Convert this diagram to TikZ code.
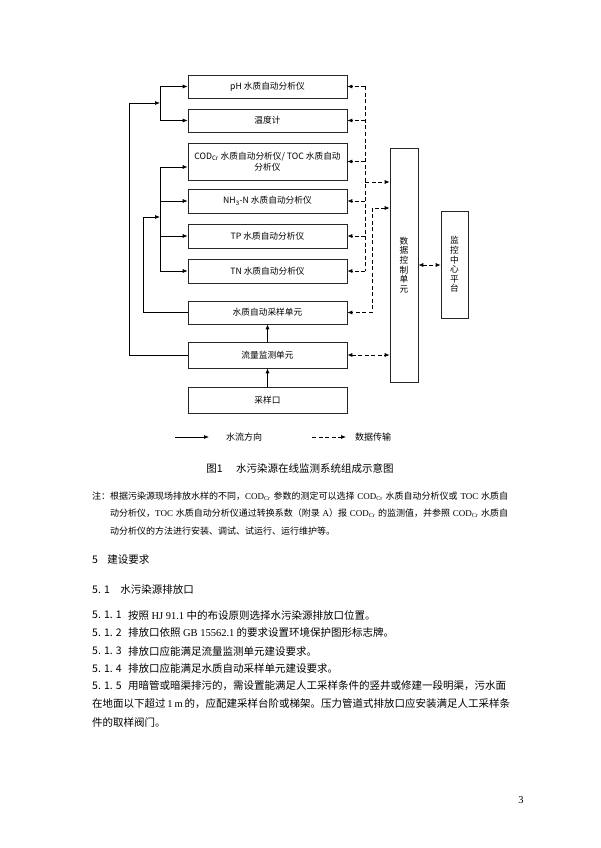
\documentclass[tikz,border=0pt]{standalone}
\usepackage{fontspec}
\usepackage{tikz}
\usetikzlibrary{arrows.meta}
\setmainfont{Noto Sans CJK SC}
\newfontfamily\en{Liberation Serif}
\XeTeXlinebreaklocale "zh"
\XeTeXlinebreakskip=0pt plus 1pt minus 0.3pt
\newcommand{\fullline}[2]{\makebox[#1][s]{#2}}
\tikzset{
    unit/.style={draw=black!85, line width=0.6pt, inner sep=1pt, align=center,
        font=\fontsize{8.7}{10.5}\selectfont},
    box/.style={unit, minimum width=159pt},
    data/.style={line width=0.7pt, dash pattern=on 4pt off 2.5pt},
    water/.style={line width=0.7pt},
    txt/.style={inner sep=0pt, anchor=west},
    body/.style={txt, font=\fontsize{10.5}{12}\selectfont},
    note/.style={txt, font=\fontsize{9}{11}\selectfont}
}

\begin{document}
\begin{tikzpicture}[x=1pt, y=-1pt, >={Latex[length=5pt,width=4pt]}]
        \fill[white] (0,0) rectangle (600,848);
        \useasboundingbox (0,0) rectangle (600,848);

        % Define nodes
        \node[box, minimum height=23pt] (A1) at (267.5,86.5) {pH 水质自动分析仪};
        \node[box, minimum height=23pt] (A2) at (267.5,120.5) {温度计};
        \node[box, minimum height=37pt] (A3) at (267.5,161.5) {COD\textsubscript{Cr} 水质自动分析仪/ TOC 水质自动\\分析仪};
        \node[box, minimum height=24pt] (A4) at (267.5,201) {NH\textsubscript{3}-N 水质自动分析仪};
        \node[box, minimum height=24pt] (A5) at (267.5,236) {TP 水质自动分析仪};
        \node[box, minimum height=24pt] (A6) at (267.5,271) {TN 水质自动分析仪};
        \node[box, minimum height=23pt] (S1) at (267.5,312.5) {水质自动采样单元};
        \node[box, minimum height=26pt] (F1) at (267.5,355) {流量监测单元};
        \node[box, minimum height=26pt] (P1) at (267.5,400) {采样口};

        \node[unit, minimum width=28pt, minimum height=234pt, font=\fontsize{8.7}{9.6}\selectfont] (D1) at (404,265) {数\\据\\控\\制\\单\\元};
        \node[unit, minimum width=27pt, minimum height=107pt, font=\fontsize{8.7}{9.6}\selectfont] (M1) at (454.5,264.5) {监\\控\\中\\心\\平\\台};

        \coordinate (K1) at (129,103);
        \coordinate (J1) at (160,103);
        \coordinate (K2) at (143,217);
        \coordinate (J2) at (160,217);
        \coordinate (C3) at ([yshift=-5.5pt]A3.west);
        \coordinate (T1) at (365,182);
        \coordinate (T2) at (372,208);

        % Draw edges
        \draw[water, ->] (P1) -- (F1);
        \draw[water, ->] (F1) -- (S1);
        \draw[water, ->] (F1.west) -| (K1) -- (J1);
        \draw[water] (J1 |- A1.west) -- (J1 |- A2.west);
        \foreach \i in {1,2}
            \draw[water, ->] (J1 |- A\i.west) -- (A\i.west);
        \draw[water, ->] (S1.west) -| (K2) -- (J2);
        \draw[water] (J2 |- C3) -- (J2 |- A6.west);
        \draw[water, ->] (J2 |- C3) -- (C3);
        \foreach \i in {4,5,6}
            \draw[water, ->] (J2 |- A\i.west) -- (A\i.west);

        \draw[data] (T1 |- A1.east) -- (T1 |- A6.east);
        \foreach \i in {1,...,6}
            \draw[data, ->] (T1 |- A\i.east) -- (A\i.east);
        \draw[data, ->] (T1) -- (T1 -| D1.west);
        \draw[data, <->] (T2 -| D1.west) -- (T2) |- (S1.east);
        \draw[data, <->] (F1.east) -- (F1.east -| D1.west);
        \draw[data, <->] (D1.east) -- (D1.east -| M1.west);

        % Legend
        \coordinate (L1) at (175,437);
        \coordinate (L2) at (209,437);
        \coordinate (L4) at (312,437);
        \coordinate (L5) at (346,437);
        \draw[water, ->] (L1) -- (L2);
        \draw[data, ->] (L4) -- (L5);
        \node[txt, font=\fontsize{9}{11}\selectfont] (L3) at (226,437) {水流方向};
        \node[txt, font=\fontsize{9}{11}\selectfont] (L6) at (355,437) {数据传输};

        % Caption and text
        \node[font=\fontsize{10.5}{12}\selectfont, inner sep=0pt] (G1) at (300,468) {图1\hspace{1.3em}水污染源在线监测系统组成示意图};

        \node[note] (N0) at (92,496) {注：};
        \node[note] (N1) at (110,496) {\fullline{398pt}{根据污染源现场排放水样的不同，{\en COD\textsubscript{Cr}} 参数的测定可以选择 {\en COD\textsubscript{Cr}} 水质自动分析仪或 {\en TOC} 水质自}};
        \node[note] (N2) at (110,513.5) {\fullline{398pt}{动分析仪，{\en TOC} 水质自动分析仪通过转换系数（附录 {\en A}）报 {\en COD\textsubscript{Cr}} 的监测值，并参照 {\en COD\textsubscript{Cr}} 水质自}};
        \node[note] (N3) at (110,531) {动分析仪的方法进行安装、调试、试运行、运行维护等。};

        \node[body] (H1) at (92,560) {5\hspace{0.9em}建设要求};
        \node[body] (H2) at (92,590) {5. 1\hspace{1em}水污染源排放口};

        \node[body] (B1) at (92,615) {5. 1. 1};
        \node[body] (B2) at (92,633) {5. 1. 2};
        \node[body] (B3) at (92,651) {5. 1. 3};
        \node[body] (B4) at (92,668.5) {5. 1. 4};
        \node[body] (B5) at (92,686) {5. 1. 5};
        \node[body] (T11) at (128,615) {按照 {\en HJ 91.1} 中的布设原则选择水污染源排放口位置。};
        \node[body] (T12) at (128,633) {排放口依照 {\en GB 15562.1} 的要求设置环境保护图形标志牌。};
        \node[body] (T13) at (128,651) {排放口应能满足流量监测单元建设要求。};
        \node[body] (T14) at (128,668.5) {排放口应能满足水质自动采样单元建设要求。};
        \node[body] (T15) at (128,686) {\fullline{382pt}{用暗管或暗渠排污的，需设置能满足人工采样条件的竖井或修建一段明渠，污水面}};
        \node[body] (T16) at (92,704) {\fullline{418pt}{在地面以下超过 {\en 1 m} 的，应配建采样台阶或梯架。压力管道式排放口应安装满足人工采样条}};
        \node[body] (T17) at (92,722) {件的取样阀门。};

        \node[font=\en\fontsize{10.5}{12}\selectfont, inner sep=0pt] (PG) at (521,800) {3};
\end{tikzpicture}
\end{document}
